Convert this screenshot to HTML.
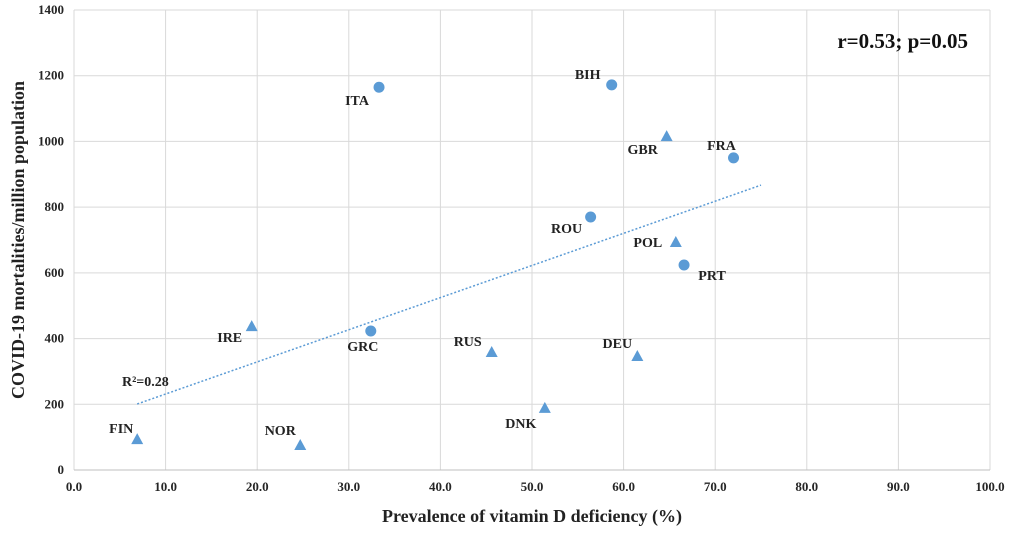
<!DOCTYPE html>
<html><head><meta charset="utf-8">
<style>
html,body{margin:0;padding:0;background:#fff;}
svg{display:block;font-family:"Liberation Serif",serif;}
</style></head>
<body>
<svg id="chart" width="1014" height="533" viewBox="0 0 1014 533"></svg>
<script>
const countries=["ITA","BIH","GBR","FRA","ROU","POL","PRT","IRE","GRC","RUS","DEU","DNK","FIN","NOR"];
const xValues=[33.3,58.7,64.7,72.0,56.4,65.7,66.6,19.4,32.4,45.6,61.5,51.4,6.9,24.7];
const yValues=[1165,1172,1016,950,770,694,624,438,423,359,347,189,94,76];
const markers=["c","c","t","c","c","t","c","t","c","t","t","t","t","t"];
const xTicks=[0,10,20,30,40,50,60,70,80,90,100];
const yTicks=[0,200,400,600,800,1000,1200,1400];
// label offsets (styling)
const lblDx=[-22,-24,-24,-12,-24,-28,28,-22,-8,-24,-20,-24,-16,-20];
const lblDy=[18,-6,18,-8,16,5,15,16,20,-6,-8,20,-6,-10];

const svg=document.getElementById('chart');
const NS="http://www.w3.org/2000/svg";
const X0=74,X1=990,Y0=470,Y1=10;
const sx=v=>X0+(v-0)/100*(X1-X0);
const sy=v=>Y0-(v/1400)*(Y0-Y1);
function mk(tag,attrs,text){const e=document.createElementNS(NS,tag);for(const k in attrs)e.setAttribute(k,attrs[k]);if(text!==undefined)e.textContent=text;svg.appendChild(e);return e;}

xTicks.forEach(t=>{
 const g=mk('line',{x1:sx(t),x2:sx(t),y1:Y1,y2:Y0,stroke:'#d9d9d9','stroke-width':1});
 
 
 const l=mk('text',{x:sx(t),y:Y0+21,'text-anchor':'middle','font-size':13,'font-weight':'bold',fill:'#262626'},t.toFixed(1));
 
 
});
yTicks.forEach(t=>{
 const g=mk('line',{x1:X0,x2:X1,y1:sy(t),y2:sy(t),stroke:'#d9d9d9','stroke-width':1});
 
 
 const l=mk('text',{x:X0-10,y:sy(t)+4,'text-anchor':'end','font-size':13,'font-weight':'bold',fill:'#262626'},t);
 
 
});
const ax=mk('line',{x1:X0,x2:X1,y1:Y0,y2:Y0,stroke:'#bfbfbf','stroke-width':1});



// regression trendline
const n=xValues.length;
const mx=xValues.reduce((a,b)=>a+b)/n,my=yValues.reduce((a,b)=>a+b)/n;
let sxy=0,sxx=0;for(let i=0;i<n;i++){sxy+=(xValues[i]-mx)*(yValues[i]-my);sxx+=(xValues[i]-mx)**2;}
const slope=sxy/sxx,icpt=my-slope*mx;
const xmin=Math.min(...xValues),xmax=75;
const tl=mk('line',{x1:sx(xmin),y1:sy(icpt+slope*xmin),x2:sx(xmax),y2:sy(icpt+slope*xmax),stroke:'#5b9bd5','stroke-width':1.5,'stroke-dasharray':'2,2'});


const r2=mk('text',{x:122,y:386,'font-size':14,'font-weight':'bold',fill:'#222'},'R²=0.28');



for(let i=0;i<n;i++){
 const cx=sx(xValues[i]),cy=sy(yValues[i]);
 let m;
 if(markers[i]==='c') m=mk('circle',{cx:cx,cy:cy,r:5.5,fill:'#5b9bd5'});
 else m=mk('polygon',{points:`${cx},${cy-6} ${cx+6},${cy+5} ${cx-6},${cy+5}`,fill:'#5b9bd5'});
 
 
 const l=mk('text',{x:cx+lblDx[i],y:cy+lblDy[i],'text-anchor':'middle','font-size':14,'font-weight':'bold',fill:'#222'},countries[i]);
 
 
}

const xt=mk('text',{x:532,y:522,'text-anchor':'middle','font-size':18,'font-weight':'bold',fill:'#222'},'Prevalence of vitamin D deficiency (%)');


const yt=mk('text',{x:0,y:0,transform:'translate(24,240) rotate(-90)','text-anchor':'middle','font-size':18,'font-weight':'bold',fill:'#222'},'COVID-19 mortalities/million population');


const st=mk('text',{x:968,y:48,'text-anchor':'end','font-size':21,'font-weight':'bold',fill:'#111'},'r=0.53; p=0.05');


</script>
</body></html>
